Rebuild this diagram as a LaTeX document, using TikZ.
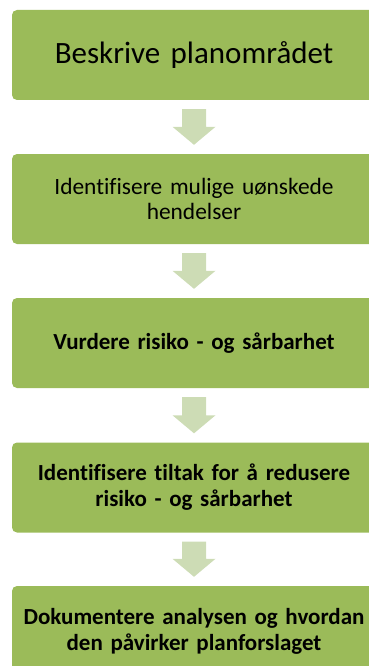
\documentclass[tikz,border=0pt]{standalone}
\usepackage{fontspec}
\setmainfont[Ligatures={NoCommon}]{Carlito}
\usetikzlibrary{calc}
\definecolor{boxgreen}{HTML}{9BBB59}
\definecolor{arrowgreen}{HTML}{CDDCB5}
\begin{document}
\begin{tikzpicture}[x=1pt,y=-1pt,
  stepbox/.style={fill=boxgreen, rounded corners=5pt, minimum width=364pt, minimum height=90pt, inner sep=0pt, align=center, text width=364pt, font=\bfseries\fontsize{23}{26}\selectfont},
  plainbox/.style={stepbox, font=\fontsize{23.4}{25.5}\selectfont},
  downarrow/.style={fill=arrowgreen}]
\useasboundingbox (0,0) rectangle (369,666);
\node[stepbox, font=\fontsize{31}{36}\selectfont] (b1) at (194,55) {Beskrive planområdet};
\node[plainbox] (b2) at (194,199) {Identifisere mulige uønskede\\hendelser};
\node[stepbox] (b3) at (194,343) {Vurdere risiko - og sårbarhet};
\node[stepbox] (b4) at (194,487.5) {Identifisere tiltak for å redusere\\risiko - og sårbarhet};
\node[stepbox] (b5) at (194,631) {Dokumentere analysen og hvordan\\den påvirker planforslaget};
\foreach \a/\b in {b1/b2,b2/b3,b3/b4,b4/b5}{
  \path (\a.south) ++(0,9) coordinate (s) (\b.north) ++(0,-9) coordinate (e);
  \fill[downarrow] ($(s)+(-12,0)$) -- ($(s)+(12,0)$) -- ($(e)+(12,-18)$) -- ($(e)+(21.5,-18)$) -- (e) -- ($(e)+(-21.5,-18)$) -- ($(e)+(-12,-18)$) -- cycle;
}
\end{tikzpicture}
\end{document}
